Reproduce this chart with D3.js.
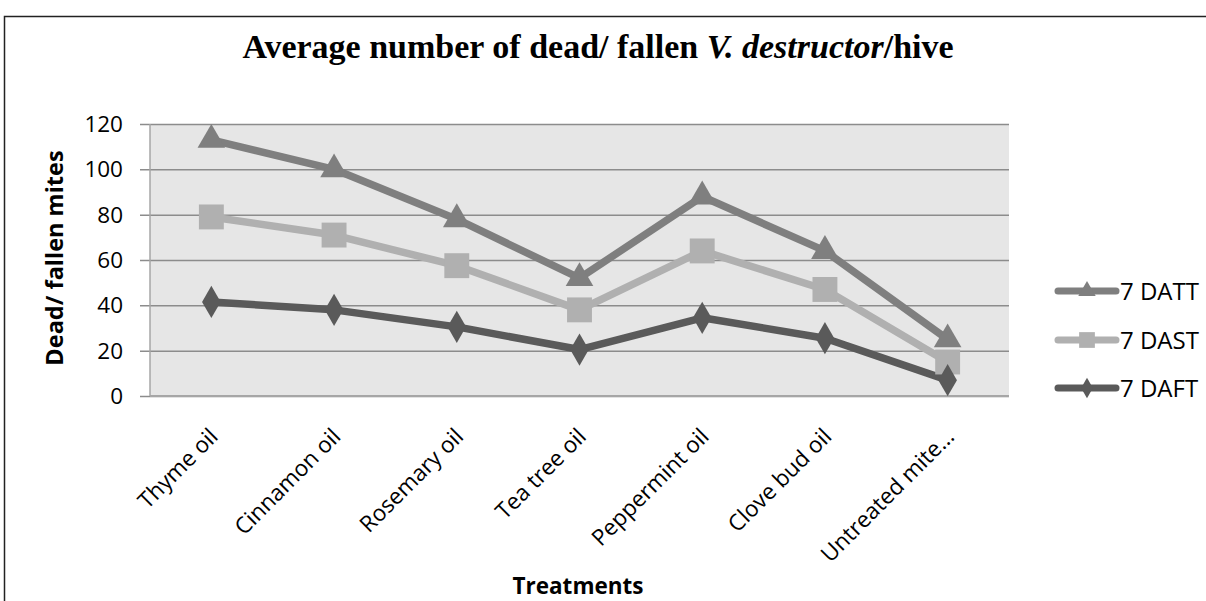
<!DOCTYPE html>
<html><head><meta charset="utf-8">
<script src="https://cdn.jsdelivr.net/npm/d3@7/dist/d3.min.js"></script>
<style>body{margin:0;background:#fff;}svg{display:block;}</style>
</head><body>
<svg id="c" width="1206" height="601"></svg>
<script>
const categories = ["Thyme oil","Cinnamon oil","Rosemary oil","Tea tree oil","Peppermint oil","Clove bud oil","Untreated mite\u2026"];
const datt = [113, 100, 78, 52, 88, 64, 25];
const dast = [79, 71, 57.5, 38, 64, 47, 15];
const daft = [41.5, 38, 30.5, 20.5, 34.5, 25.5, 7];
const yTicks = [0,20,40,60,80,100,120];
const seriesNames = ["7 DATT","7 DAST","7 DAFT"];

const series = [
  {name: seriesNames[0], values: datt, color: "#7f7f7f", sym: d3.symbolTriangle, size: 330},
  {name: seriesNames[1], values: dast, color: "#b0b0b0", sym: d3.symbolSquare, size: 620},
  {name: seriesNames[2], values: daft, color: "#5a5a5a", sym: d3.symbolDiamond, size: 300}
];

const FONT = "Open Sans, Noto Sans, sans-serif";
const svg = d3.select("#c");
const L = 150, R = 1009, T = 124, B = 396;
const x = d3.scaleBand().domain(categories).range([L, R]);
const y = d3.scaleLinear().domain([0,120]).range([B, T]);

// outer frame
svg.append("path").attr("d", "M4.5,601 L4.5,16.5 L1206,16.5").attr("fill","none").attr("stroke","#222").attr("stroke-width",1.5);

// title
const title = svg.append("text").attr("x", 598).attr("y", 58).attr("text-anchor","middle")
  .attr("font-family","Liberation Serif, Times New Roman, serif").attr("font-weight","bold").attr("font-size",34).attr("fill","#000");
title.append("tspan").text("Average number of dead/ fallen ");
title.append("tspan").attr("font-style","italic").text("V. destructor");
title.append("tspan").text("/hive");

// plot bg
svg.append("rect").attr("x",L).attr("y",T).attr("width",R-L).attr("height",B-T).attr("fill","#e6e6e6");

// gridlines & y axis
const yAxis = d3.axisLeft(y).tickValues(yTicks).tickSize(R-L+10).tickFormat(d3.format("d"));
const ga = svg.append("g").attr("transform",`translate(${R},0)`).call(yAxis);
ga.select(".domain").remove();
ga.selectAll(".tick line").attr("stroke","#8c8c8c").attr("stroke-width",1.5);
ga.selectAll(".tick text").attr("font-family",FONT).attr("font-size",22.5).attr("fill","#000").attr("x",-(R-L+27)).attr("dy","0.34em");
// left axis line
svg.append("line").attr("x1",L).attr("x2",L).attr("y1",T).attr("y2",B).attr("stroke","#a6a6a6").attr("stroke-width",1.5);
svg.append("line").attr("x1",L).attr("x2",R).attr("y1",B).attr("y2",B).attr("stroke","#a6a6a6").attr("stroke-width",2);

// x labels
const gx = svg.append("g");
categories.forEach(c => {
  const cx = x(c) + x.bandwidth()/2;
  gx.append("text").attr("transform",`translate(${cx+8},${438}) rotate(-45)`)
    .attr("text-anchor","end").attr("font-family",FONT).attr("font-size",22.5).attr("fill","#000").text(c);
});

// axis titles
svg.append("text").attr("transform","translate(63,258) rotate(-90)").attr("text-anchor","middle")
  .attr("font-family",FONT).attr("font-weight","bold").attr("font-size",23.5).text("Dead/ fallen mites");
svg.append("text").attr("x",578).attr("y",594).attr("text-anchor","middle")
  .attr("font-family",FONT).attr("font-weight","bold").attr("font-size",22.5).text("Treatments");

// lines
const line = d3.line().x((d,i)=>x(categories[i])+x.bandwidth()/2).y(d=>y(d));
series.forEach(s => {
  svg.append("path").datum(s.values).attr("d",line).attr("fill","none").attr("stroke",s.color).attr("stroke-width",7.5).attr("stroke-linejoin","round");
});
series.forEach(s => {
  svg.append("g").selectAll("path").data(s.values).join("path")
    .attr("transform",(d,i)=>`translate(${x(categories[i])+x.bandwidth()/2},${y(d)})`)
    .attr("d", d3.symbol().type(s.sym).size(s.size)).attr("fill",s.color);
});

// legend
const ly = [291, 340, 388];
series.forEach((s,i) => {
  const g = svg.append("g").attr("transform",`translate(0,${ly[i]})`);
  g.append("line").attr("x1",1058).attr("x2",1116).attr("y1",0).attr("y2",0).attr("stroke",s.color).attr("stroke-width",7).attr("stroke-linecap","round");
  g.append("path").attr("transform","translate(1087,0)").attr("d",d3.symbol().type(s.sym).size(s.size*0.4)).attr("fill",s.color);
  g.append("text").attr("x",1120).attr("y",0).attr("dy","0.36em").attr("font-family",FONT).attr("font-size",24).attr("fill","#000").text(s.name);
});
</script>
</body></html>
